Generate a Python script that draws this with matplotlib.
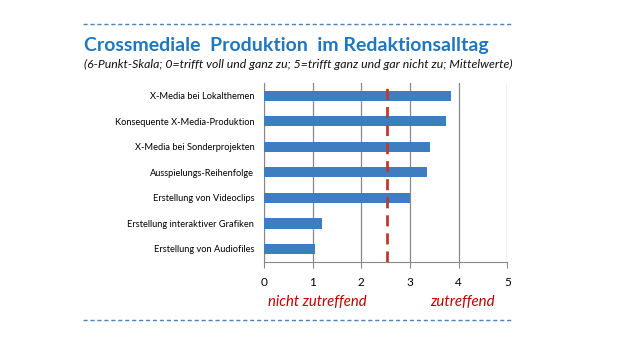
import matplotlib
matplotlib.use("Agg")
import matplotlib.pyplot as plt
from matplotlib.lines import Line2D

categories = ["X-Media bei Lokalthemen", "Konsequente X-Media-Produktion",
              "X-Media bei Sonderprojekten", "Ausspielungs-Reihenfolge",
              "Erstellung von Videoclips", "Erstellung interaktiver Grafiken",
              "Erstellung von Audiofiles"]
values = [3.84, 3.73, 3.41, 3.35, 3.00, 1.20, 1.04]
x_ticks = [0, 1, 2, 3, 4, 5]
ref_value = 2.52

plt.rcParams['font.family'] = ['Lato', 'DejaVu Sans']

fig = plt.figure(figsize=(6.23, 3.64), dpi=100)
ax = fig.add_axes([264/623, 1-261.7/364, (507.3-264)/623, (261.7-83)/364])

ypos = list(range(len(categories)))[::-1]
ax.barh(ypos, values, height=0.4, color="#3F7DC1", zorder=3)
ax.axvline(ref_value, color="#C0392B", lw=2, ls=(0, (4, 2.5)), zorder=4)

ax.set_xlim(0, 5)
ax.set_ylim(-0.5, len(categories) - 0.5)
ax.set_xticks(x_ticks)
ax.set_xticklabels([str(t) for t in x_ticks], fontsize=8.5)
ax.set_yticks(ypos)
ax.set_yticklabels(categories, fontsize=6.7)
ax.tick_params(axis='y', length=0, pad=7)
ax.tick_params(axis='x', length=4, color="#888888", pad=7, direction='out')
ax.grid(axis='x', color="#888888", lw=0.9, zorder=0)
for s in ['top', 'right']:
    ax.spines[s].set_visible(False)
ax.spines['left'].set_color("#888888")
ax.spines['bottom'].set_color("#888888")

fig.text(84/623, 1-45/364, "Crossmediale  Produktion  im Redaktionsalltag",
         fontsize=14, fontweight='bold', color="#1F77C0", va='center', ha='left')
fig.text(84/623, 1-64/364,
         "(6-Punkt-Skala; 0=trifft voll und ganz zu; 5=trifft ganz und gar nicht zu; Mittelwerte)",
         fontsize=8.8, style='italic', color="#111111", va='center', ha='left')

fig.text(268/623, 1-301.5/364, "nicht zutreffend", fontsize=10.7, style='italic',
         color="#C00000", va='center', ha='left')
fig.text(430/623, 1-301.5/364, "zutreffend", fontsize=10.8, style='italic',
         color="#C00000", va='center', ha='left')

for yy in [24.3, 320.3]:
    fig.add_artist(Line2D([82.7/623, 511.7/623], [1-yy/364, 1-yy/364],
                          transform=fig.transFigure, color="#4F81BD", lw=1,
                          ls=(0, (3, 2))))

fig.savefig("out.png", dpi=100)
